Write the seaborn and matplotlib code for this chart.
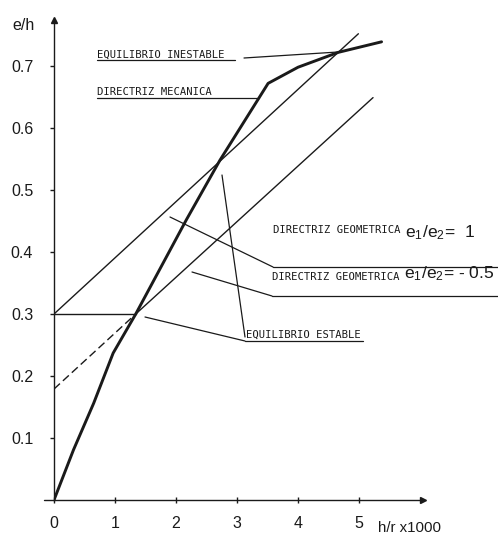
import matplotlib
matplotlib.use("Agg")
import matplotlib.pyplot as plt
import seaborn as sns
import pandas as pd

# ---- data ----
mech_x = [0, 0.32, 0.65, 0.97, 1.34, 2.17, 2.72, 3.51, 4.0, 4.66, 5.37]
mech_y = [0, 0.081, 0.156, 0.237, 0.30, 0.452, 0.548, 0.672, 0.698, 0.722, 0.739]
geo1_x = [0, 4.99]
geo1_y = [0.30, 0.752]
geo2_dash_x = [0, 1.34]
geo2_dash_y = [0.179, 0.30]
geo2_x = [1.34, 5.23]
geo2_y = [0.30, 0.649]
horiz_x = [0, 1.34]
horiz_y = [0.30, 0.30]
x_ticks = [0, 1, 2, 3, 4, 5]
x_tick_labels = ["0", "1", "2", "3", "4", "5"]
y_ticks = [0.1, 0.2, 0.3, 0.4, 0.5, 0.6, 0.7]
y_tick_labels = ["0.1", "0.2", "0.3", "0.4", "0.5", "0.6", "0.7"]

sns.set_style("white")
plt.rcParams['font.family'] = ['Liberation Sans', 'DejaVu Sans']
plt.rcParams['mathtext.default'] = 'regular'

W, H = 498, 535
fig = plt.figure(figsize=(W / 100, H / 100), dpi=100)
X0, Y0, XR, YT = 54, 500, 423, 20
ax = fig.add_axes([X0 / W, (H - Y0) / H, (XR - X0) / W, (Y0 - YT) / H])
SX, SY = 61.0, 620.0
ax.set_xlim(0, (XR - X0) / SX)
ax.set_ylim(0, (Y0 - YT) / SY)


def fx(px):
    return (px - X0) / SX


def fy(py):
    return (Y0 - py) / SY


K = "#1a1a1a"

df_mech = pd.DataFrame({"x": mech_x, "y": mech_y})
sns.lineplot(data=df_mech, x="x", y="y", ax=ax, color=K, lw=2.1, sort=False, estimator=None)
sns.lineplot(x=geo1_x, y=geo1_y, ax=ax, color=K, lw=1.0, sort=False, estimator=None)
sns.lineplot(x=geo2_x, y=geo2_y, ax=ax, color=K, lw=1.0, sort=False, estimator=None)
sns.lineplot(x=horiz_x, y=horiz_y, ax=ax, color=K, lw=1.0, sort=False, estimator=None)
sns.lineplot(x=geo2_dash_x, y=geo2_dash_y, ax=ax, color=K, lw=1.0, sort=False,
             estimator=None, dashes=False)
ax.lines[-1].set_dashes((5.8, 2.9))

# axes look
for s in ["top", "right"]:
    ax.spines[s].set_visible(False)
for s in ["left", "bottom"]:
    ax.spines[s].set_color(K)
    ax.spines[s].set_linewidth(1.0)
ax.plot(1, 0, ">", transform=ax.transAxes, clip_on=False, color=K, ms=5)
ax.plot(0, 1, "^", transform=ax.transAxes, clip_on=False, color=K, ms=4)
ax.plot([fx(44), 0], [0, 0], color=K, lw=1.0, clip_on=False)

ax.set_xticks(x_ticks)
ax.set_xticklabels(x_tick_labels)
ax.set_yticks(y_ticks)
ax.set_yticklabels(y_tick_labels)
ax.tick_params(axis="y", direction="out", length=3, width=1, color=K, pad=12,
               labelsize=11.5, labelcolor=K, left=True)
ax.tick_params(axis="x", direction="inout", length=5, width=1, color=K, pad=9,
               labelsize=11.5, labelcolor=K, bottom=True)
ax.set_xlabel("")
ax.set_ylabel("")

# axis titles
ax.text(fx(12), fy(30), "e/h", fontsize=11.5, color=K, ha="left", va="baseline",
        clip_on=False)
ax.text(fx(378), fy(532), "h/r x1000", fontsize=10.8, color=K, ha="left", va="baseline",
        clip_on=False)


def seg(p1, p2):
    ax.plot([fx(p1[0]), fx(p2[0])], [fy(p1[1]), fy(p2[1])], color=K, lw=0.9,
            clip_on=False)


MONO = ['DejaVu Sans Mono']
LFS = 7.6
EFS = 12.6
# EQUILIBRIO INESTABLE
ax.text(fx(97), fy(57.5), "EQUILIBRIO INESTABLE", fontsize=LFS, color=K,
        family=MONO, ha="left", va="baseline", clip_on=False)
seg((97, 60), (235, 60))
seg((244, 58), (338, 52))

# DIRECTRIZ MECANICA
ax.text(fx(97), fy(95), "DIRECTRIZ MECANICA", fontsize=LFS, color=K,
        family=MONO, ha="left", va="baseline", clip_on=False)
seg((97, 97.5), (259, 97.5))

# DIRECTRIZ GEOMETRICA e1/e2 = 1
ax.text(fx(273), fy(233), "DIRECTRIZ GEOMETRICA", fontsize=LFS, color=K,
        family=MONO, ha="left", va="baseline", clip_on=False)
ax.text(fx(405), fy(237), r"$e_1/e_2$=  1", fontsize=EFS, color=K,
        ha="left", va="baseline", clip_on=False)
seg((273, 267), (498, 267))
seg((170, 217), (273, 267))

# DIRECTRIZ GEOMETRICA e1/e2 = -0.5
ax.text(fx(272), fy(280), "DIRECTRIZ GEOMETRICA", fontsize=LFS, color=K,
        family=MONO, ha="left", va="baseline", clip_on=False)
ax.text(fx(404), fy(278), r"$e_1/e_2$= - 0.5", fontsize=EFS, color=K,
        ha="left", va="baseline", clip_on=False)
seg((272, 296), (498, 296))
seg((192, 272), (272, 296))

# EQUILIBRIO ESTABLE
ax.text(fx(246), fy(338), "EQUILIBRIO ESTABLE", fontsize=LFS, color=K,
        family=MONO, ha="left", va="baseline", clip_on=False)
seg((245, 341), (363, 341))
seg((145, 317), (245, 341))
seg((222, 175), (245, 337))

fig.savefig("out.png", dpi=100)
